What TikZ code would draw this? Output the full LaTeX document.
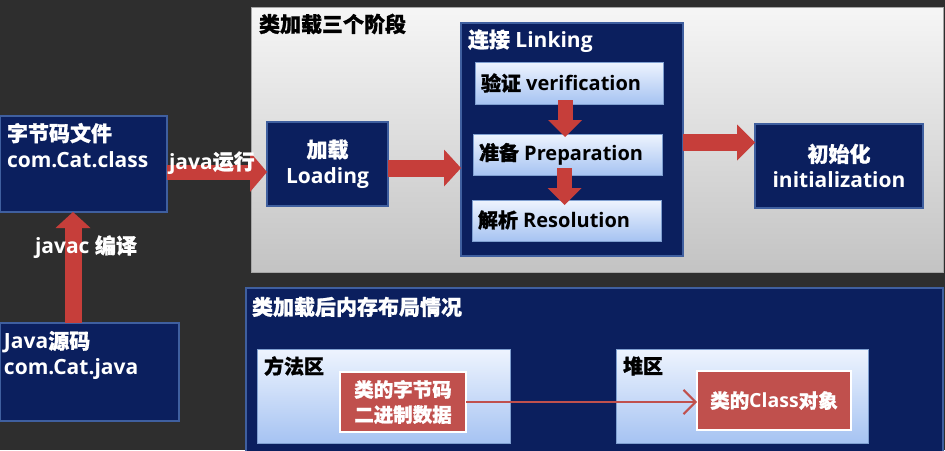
\documentclass[tikz,border=0pt]{standalone}
\usepackage{fontspec}
\setmainfont{Open Sans}
\newfontfamily\cjkfont{Noto Sans CJK SC Bold}[FakeBold=1]
\newcommand\cn[1]{{\cjkfont #1}}
\usetikzlibrary{arrows.meta}
\definecolor{board}{HTML}{2E2E2E}
\definecolor{navy}{HTML}{0B1F5E}
\definecolor{boxedge}{HTML}{3F5F9F}
\definecolor{lbtop}{HTML}{EEF4FE}
\definecolor{lbbot}{HTML}{A6C3F2}
\definecolor{lightedge}{HTML}{7F9FD0}
\definecolor{redfill}{HTML}{C0504D}
\definecolor{arrowred}{HTML}{C63E3A}
\definecolor{ptop}{HTML}{F6F6F6}
\definecolor{pbot}{HTML}{C3C3C3}
\begin{document}
\begin{tikzpicture}[x=1pt,y=-1pt,
  every node/.style={inner sep=0pt, outer sep=0pt},
  darkbox/.style={draw=boxedge, line width=1.2pt, fill=navy, anchor=north west},
  lightbox/.style={draw=lightedge, line width=0.8pt, top color=lbtop, bottom color=lbbot, anchor=north west},
  redbox/.style={draw=white, line width=1.6pt, fill=redfill, anchor=north west},
  graypanel/.style={draw=gray!70, line width=0.8pt, top color=ptop, bottom color=pbot, anchor=north west},
  wtxt/.style={text=white, font=\bfseries\fontsize{21}{26}\selectfont},
  btxt/.style={text=black, font=\bfseries\fontsize{20}{24}\selectfont},
  fat/.style n args={3}{draw=arrowred, line width=#1pt, -{Triangle[width=#2pt,length=#3pt,line width=0pt]}},
  memlink/.style={draw=redfill, line width=2pt, -{Straight Barb[scale=2.2]}}
]
\useasboundingbox (0,0) rectangle (945,450);
\clip (0,0) rectangle (945,450);
\fill[board] (0,0) rectangle (945,450);

% top panel
\node[graypanel, minimum width=692pt, minimum height=265pt] (toppanel) at (251,7) {};
\node[anchor=west, text=black, font=\bfseries\fontsize{21}{26}\selectfont] (t1) at (259,24) {\cn{类加载三个阶段}};

% left boxes
\node[darkbox, minimum width=167pt, minimum height=96pt] (bc) at (0,116) {};
\node[wtxt, anchor=north west, align=left] (bctxt) at (7,123) {\cn{字节码文件}\\com.Cat.class};
\node[darkbox, minimum width=179pt, minimum height=98pt] (src) at (0,323) {};
\node[wtxt, anchor=north west, align=left] (srctxt) at (4,331) {Java\cn{源码}\\com.Cat.java};

% stages
\node[darkbox, minimum width=121pt, minimum height=84pt, wtxt, align=center] (load) at (267,122) {\cn{加载}\\Loading};
\node[darkbox, minimum width=222pt, minimum height=233pt] (link) at (461,23) {};
\node[wtxt, anchor=west] (linktxt) at (468,41) {\cn{连接} Linking};
\node[lightbox, minimum width=188pt, minimum height=42pt] (ver) at (475,62) {};
\node[btxt, anchor=west] (vertxt) at (481,83) {\cn{验证} verification};
\node[lightbox, minimum width=189pt, minimum height=41pt] (prep) at (473,134) {};
\node[btxt, anchor=west] (preptxt) at (479,154) {\cn{准备} Preparation};
\node[lightbox, minimum width=189pt, minimum height=41pt] (res) at (472,200) {};
\node[btxt, anchor=west] (restxt) at (478,220) {\cn{解析} Resolution};
\node[darkbox, minimum width=168pt, minimum height=84pt, wtxt, align=center] (init) at (755,124) {\cn{初始化}\\initialization};

% fat arrows
\draw[fat={15}{40}{17}] ([yshift=-8pt]bc.east) -- ([yshift=-8pt]load.west);
\node[wtxt, anchor=west] (jrun) at (169,163) {java\cn{运行}};
\draw[fat={17}{37}{17}] ([yshift=-4pt]load.east) -- ([yshift=-4pt]load.east -| link.west);
\draw[fat={17}{36}{18}] ([yshift=-3pt]link.east) -- ([yshift=-3pt]link.east -| init.west);
\draw[fat={15}{34}{17}] ([xshift=-4pt,yshift=4pt]ver.south) -- ([xshift=-4pt,yshift=-3pt]ver.south |- prep.north);
\draw[fat={15}{34}{17}] ([xshift=-3pt,yshift=7pt]prep.south) -- ([xshift=-3pt,yshift=-5pt]prep.south |- res.north);
\draw[fat={17}{35}{16}] ([xshift=-16.5pt]src.north) -- ([xshift=-16.5pt]src.north |- bc.south);
\node[wtxt, anchor=west] (jc) at (35,247) {javac \cn{编译}};

% bottom panel
\node[darkbox, minimum width=697pt, minimum height=175pt] (botpanel) at (246,288) {};
\node[wtxt, anchor=west] (t2) at (252,307) {\cn{类加载后内存布局情况}};
\node[lightbox, minimum width=253pt, minimum height=94pt] (mz) at (257,349) {};
\node[btxt, anchor=west] (mztxt) at (264,366) {\cn{方法区}};
\node[lightbox, minimum width=252pt, minimum height=94pt] (heap) at (616,349) {};
\node[btxt, anchor=west] (heaptxt) at (623,366) {\cn{堆区}};
\node[redbox, minimum width=126pt, minimum height=60pt, text=white, font=\bfseries\fontsize{19.5}{25}\selectfont, align=center] (rb1) at (340,372) {\cn{类的字节码}\\\cn{二进制数据}};
\node[redbox, minimum width=154pt, minimum height=59pt, text=white, font=\bfseries\fontsize{19.5}{25}\selectfont] (rb2) at (697,371) {\cn{类的}Class\cn{对象}};
\draw[memlink] (rb1.east) -- (rb1.east -| rb2.west);
\end{tikzpicture}
\end{document}
